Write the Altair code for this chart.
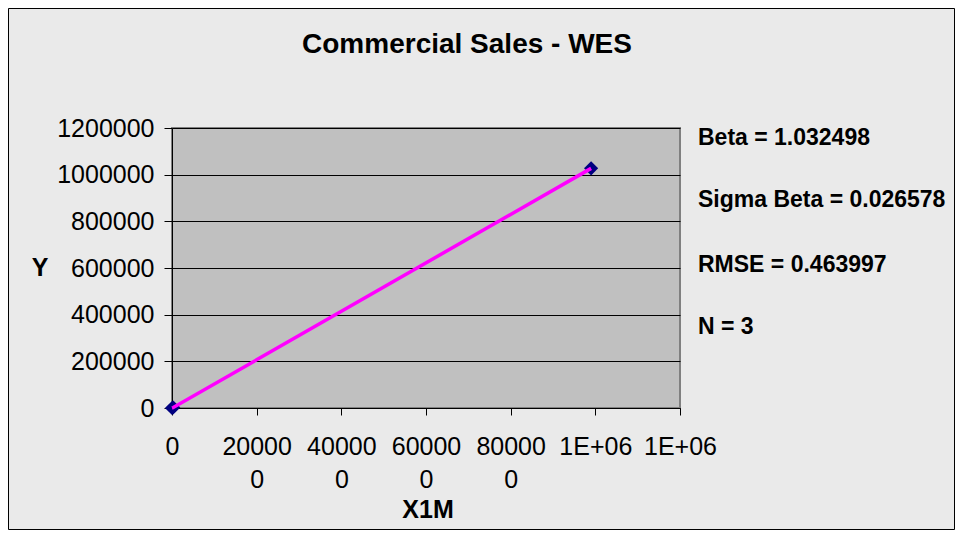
import altair as alt
import pandas as pd

# data
x_vals = [0, 3000, 990000]
y_vals = [0, 2000, 1027000]
x_ticks = [0, 200000, 400000, 600000, 800000, 1000000, 1200000]
y_ticks = [0, 200000, 400000, 600000, 800000, 1000000, 1200000]
stats = ["Beta = 1.032498", "Sigma Beta = 0.026578", "RMSE = 0.463997", "N = 3"]
title_text = "Commercial Sales - WES"
x_title = "X1M"
y_title = "Y"

FONT = "Liberation Sans"
W, H = 508, 280
PL, PT, PR, PB = 164, 120, 275, 122

df = pd.DataFrame({"x": x_vals, "y": y_vals})

xs = alt.Scale(domain=[0, 1200000], nice=False)
ys = alt.Scale(domain=[0, 1200000], nice=False)

x_axis = alt.Axis(
    values=x_ticks, title=None, grid=False, domainColor="black", domainWidth=1,
    tickColor="black", tickSize=7, labelFont=FONT, labelFontSize=25, labelColor="black",
    labelPadding=19, labelLineHeight=33, labelBaseline="top", labelOverlap=False,
    labelFlush=False,
    labelExpr="datum.value == 0 ? '0' : (datum.value >= 1000000 ? '1E+06' : [slice(toString(datum.value), 0, 5), '0'])",
)
y_axis = alt.Axis(
    values=y_ticks, title=None, grid=True, gridColor="black", gridWidth=1,
    domainColor="black", tickColor="black", tickSize=8, labelFont=FONT, labelFontSize=25,
    labelColor="black", labelPadding=10, format="d", labelOverlap=False, labelFlush=False,
)

pts = alt.Chart(df).mark_point(
    shape="diamond", filled=True, color="#000080", size=200, opacity=1
).encode(x=alt.X("x:Q", scale=xs, axis=x_axis), y=alt.Y("y:Q", scale=ys, axis=y_axis))

line = alt.Chart(df).mark_line(color="#FF00FF", strokeWidth=3.5).encode(
    x=alt.X("x:Q", scale=xs), y=alt.Y("y:Q", scale=ys)
)

stat_y = [10, 72, 137, 199]
stat_layers = []
for i, s in enumerate(stats):
    stat_layers.append(
        alt.Chart(pd.DataFrame({"t": [s]})).mark_text(
            font=FONT, fontSize=23, fontWeight="bold", align="left", baseline="middle", color="black"
        ).encode(text="t:N", x=alt.value(526), y=alt.value(stat_y[i]))
    )

title = alt.Chart(pd.DataFrame({"t": [title_text]})).mark_text(
    font=FONT, fontSize=28, fontWeight="bold", align="center", baseline="middle", color="black"
).encode(text="t:N", x=alt.value(295), y=alt.value(-83))

xt = alt.Chart(pd.DataFrame({"t": [x_title]})).mark_text(
    font=FONT, fontSize=25, fontWeight="bold", align="center", baseline="middle", color="black"
).encode(text="t:N", x=alt.value(256), y=alt.value(382))

yt = alt.Chart(pd.DataFrame({"t": [y_title]})).mark_text(
    font=FONT, fontSize=25, fontWeight="bold", align="center", baseline="middle", color="black"
).encode(text="t:N", x=alt.value(-132), y=alt.value(140))

frame = alt.Chart(pd.DataFrame({"a": [0]})).mark_rect(
    fill="transparent", stroke="black", strokeWidth=1
).encode(
    x=alt.value(-PL + 0.5), x2=alt.value(W + PR - 0.5),
    y=alt.value(-PT + 0.5), y2=alt.value(H + PB - 0.5),
)

chart = alt.layer(pts, line, *stat_layers, title, xt, yt, frame).properties(
    width=W, height=H,
    autosize=alt.AutoSizeParams(type="none"),
    padding={"left": PL, "top": PT, "right": PR, "bottom": PB},
    background="#EAEAEA",
).configure_view(
    fill="#C0C0C0", stroke="#808080", strokeWidth=2
)

chart.save("out.html", embed_options={"renderer": "svg", "actions": False})
